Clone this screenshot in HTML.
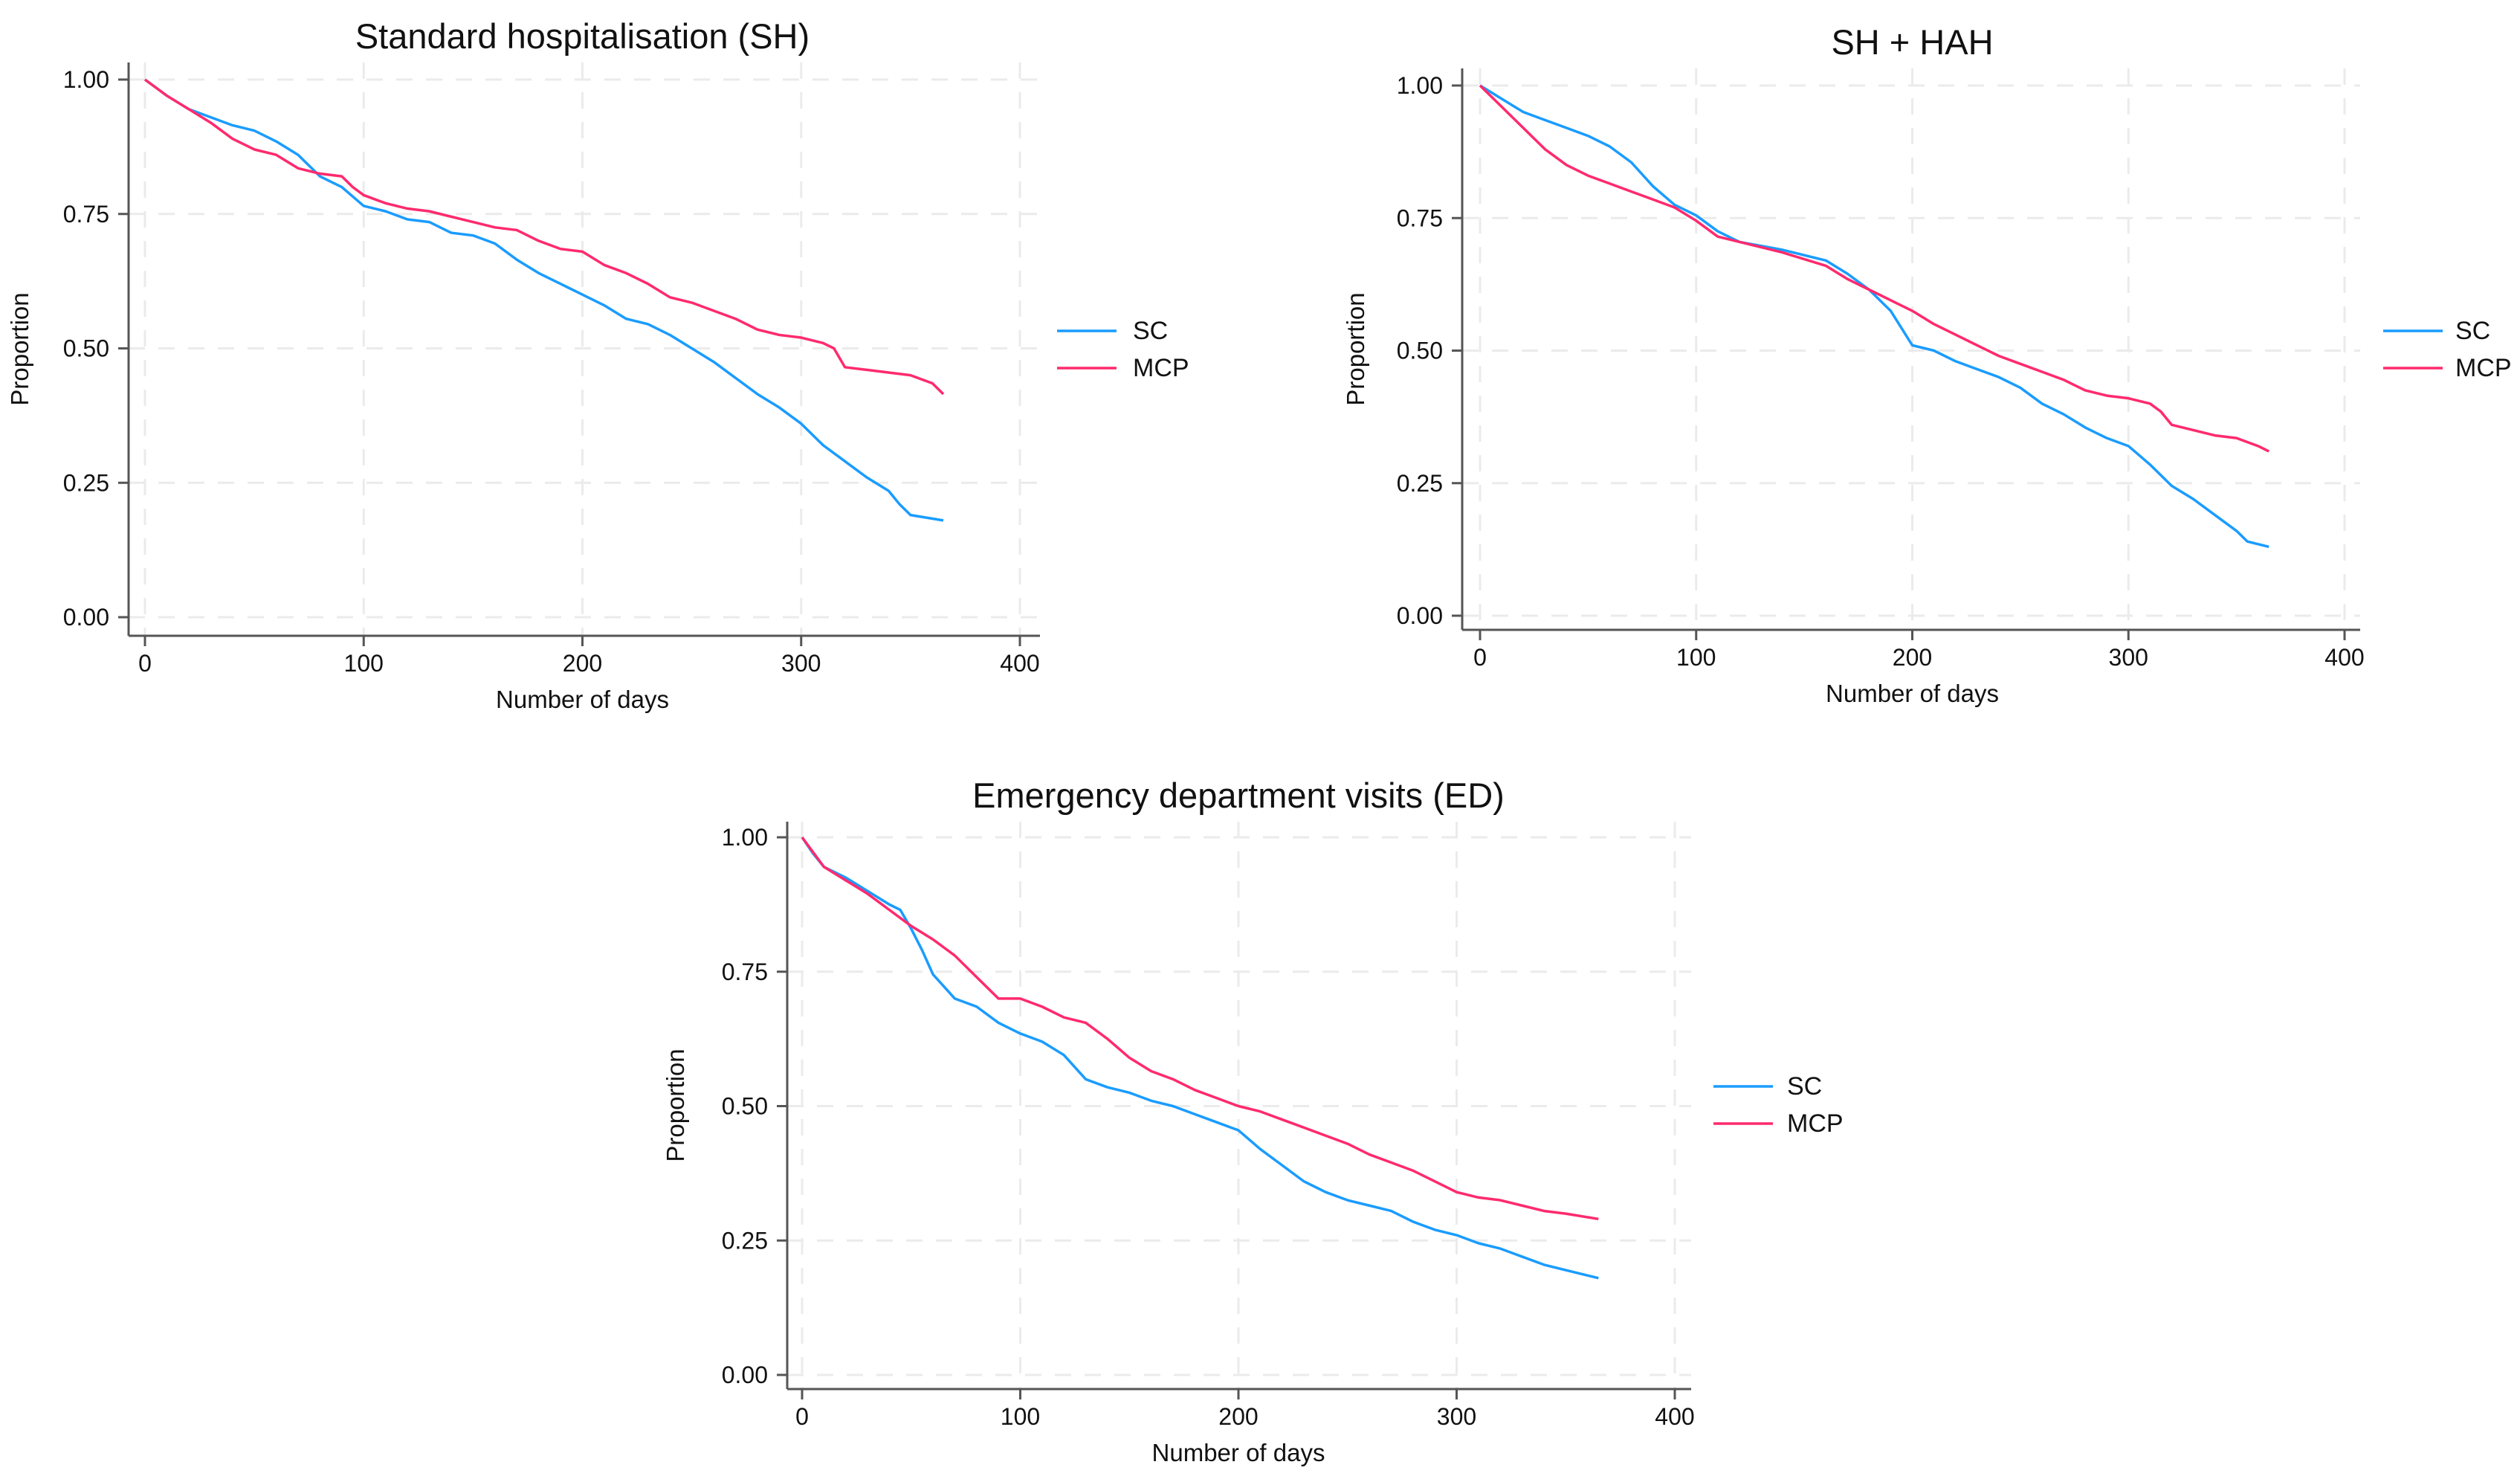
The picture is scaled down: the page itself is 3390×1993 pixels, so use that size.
<!DOCTYPE html>
<html><head><meta charset="utf-8"><style>
html,body{margin:0;padding:0;background:#fff;}
svg{display:block;font-family:"Liberation Sans",Arial,sans-serif;}
</style></head><body>
<svg id="fig" width="3390" height="1993" viewBox="0 0 3390 1993" xmlns="http://www.w3.org/2000/svg"></svg>
<script>
const xTicks = [0, 100, 200, 300, 400];
const yTicks = [0, 0.25, 0.5, 0.75, 1];
const yTickLabels = ["0.00", "0.25", "0.50", "0.75", "1.00"];
const seriesNames = ["SC", "MCP"];
const titles = ["Standard hospitalisation (SH)", "SH + HAH", "Emergency department visits (ED)"];

const shDays = [0,10,20,30,40,50,60,70,80,90,100,110,120,130,140,150,160,170,180,190,200,210,220,230,240,250,260,270,280,290,300,310,320,330,340,345,350,365];
const shSC   = [1,.97,.945,.93,.915,.905,.885,.86,.82,.80,.765,.755,.74,.735,.715,.71,.695,.665,.64,.62,.60,.58,.555,.545,.525,.50,.475,.445,.415,.39,.36,.32,.29,.26,.235,.21,.19,.18];
const shMCPDays = [0,10,20,30,40,50,60,70,80,90,95,100,110,120,130,140,150,160,170,180,190,200,210,220,230,240,250,260,270,280,290,300,310,315,320,330,340,350,360,365];
const shMCP  = [1,.97,.945,.92,.89,.87,.86,.835,.825,.82,.80,.785,.77,.76,.755,.745,.735,.725,.72,.70,.685,.68,.655,.64,.62,.595,.585,.57,.555,.535,.525,.52,.51,.50,.465,.46,.455,.45,.435,.415];

const hahSCDays = [0,10,20,30,40,50,60,70,80,90,100,110,120,140,150,160,170,180,190,200,210,220,230,240,250,260,270,280,290,300,310,320,330,340,350,355,365];
const hahSC  = [1,.975,.95,.935,.92,.905,.885,.855,.81,.775,.755,.725,.705,.69,.68,.67,.645,.615,.575,.51,.50,.48,.465,.45,.43,.40,.38,.355,.335,.32,.285,.245,.22,.19,.16,.14,.13];
const hahMCPDays = [0,10,20,30,40,50,60,70,80,90,100,110,120,140,160,170,180,190,200,210,220,230,240,250,260,270,280,290,300,310,315,320,330,340,350,360,365];
const hahMCP = [1,.96,.92,.88,.85,.83,.815,.80,.785,.77,.745,.715,.705,.685,.66,.635,.615,.595,.575,.55,.53,.51,.49,.475,.46,.445,.425,.415,.41,.40,.385,.36,.35,.34,.335,.32,.31];

const edSCDays = [0,5,10,20,30,40,45,50,55,60,70,80,90,100,110,120,130,140,150,160,170,180,190,200,210,220,230,240,250,260,270,280,290,300,310,320,330,340,350,365];
const edSC   = [1,.97,.945,.925,.90,.875,.865,.83,.79,.745,.70,.685,.655,.635,.62,.595,.55,.535,.525,.51,.50,.485,.47,.455,.42,.39,.36,.34,.325,.315,.305,.285,.27,.26,.245,.235,.22,.205,.195,.18];
const edMCPDays = [0,10,20,30,40,50,60,70,80,90,100,110,120,130,140,150,160,170,180,190,200,210,220,230,240,250,260,270,280,290,300,310,320,330,340,350,365];
const edMCP  = [1,.945,.92,.895,.865,.835,.81,.78,.74,.70,.70,.685,.665,.655,.625,.59,.565,.55,.53,.515,.50,.49,.475,.46,.445,.43,.41,.395,.38,.36,.34,.33,.325,.315,.305,.30,.29];

const NS = "http://www.w3.org/2000/svg";
const svg = document.getElementById("fig");
function mk(tag, attrs, parent) {
  const e = document.createElementNS(NS, tag);
  for (const k in attrs) e.setAttribute(k, attrs[k]);
  (parent || svg).appendChild(e);
  return e;
}
const colors = ["#1a9cff", "#ff2a6d"];

const panels = [
  {ax:173, x0:195, x400:1372, y1:107, y0:830, xAxisY:855, top:84, right:1399, ylabX:38, legLine:1422, legText:1524, legY:445, data:[[shDays,shSC],[shMCPDays,shMCP]], name:"sh"},
  {ax:1967, x0:1991, x400:3154, y1:115, y0:828, xAxisY:847, top:92, right:3175, ylabX:1835, legLine:3206, legText:3303, legY:445, data:[[hahSCDays,hahSC],[hahMCPDays,hahMCP]], name:"sh-hah"},
  {ax:1059, x0:1079, x400:2253, y1:1126, y0:1849, xAxisY:1868, top:1105, right:2275, ylabX:920, legLine:2305, legText:2404, legY:1461, data:[[edSCDays,edSC],[edMCPDays,edMCP]], name:"ed"}
];

panels.forEach((p, pi) => {
  const g = mk("g", {});
  
  
  const xs = d => p.x0 + (p.x400 - p.x0) * d / 400;
  const ys = v => p.y0 - (p.y0 - p.y1) * v;
  xTicks.forEach(t => {
    const l = mk("line", {x1:xs(t), x2:xs(t), y1:p.top, y2:p.xAxisY, stroke:"#ebebeb", "stroke-width":3, "stroke-dasharray":"22,18"}, g);
    
    
  });
  yTicks.forEach(t => {
    const l = mk("line", {x1:p.ax, x2:p.right, y1:ys(t), y2:ys(t), stroke:"#ebebeb", "stroke-width":3, "stroke-dasharray":"22,18"}, g);
    
    
  });
  const ya = mk("line", {x1:p.ax, x2:p.ax, y1:p.top, y2:p.xAxisY, stroke:"#555", "stroke-width":3}, g);
  
  
  const xa = mk("line", {x1:p.ax, x2:p.right, y1:p.xAxisY, y2:p.xAxisY, stroke:"#555", "stroke-width":3}, g);
  
  
  yTicks.forEach((t, i) => {
    mk("line", {x1:p.ax - 14, x2:p.ax, y1:ys(t), y2:ys(t), stroke:"#555", "stroke-width":3}, g);
    const tx = mk("text", {x:p.ax - 26, y:ys(t) + 11, "text-anchor":"end", "font-size":32, fill:"#111"}, g);
    tx.textContent = yTickLabels[i];
    
    
  });
  xTicks.forEach(t => {
    mk("line", {x1:xs(t), x2:xs(t), y1:p.xAxisY, y2:p.xAxisY + 14, stroke:"#555", "stroke-width":3}, g);
    const tx = mk("text", {x:xs(t), y:p.xAxisY + 48, "text-anchor":"middle", "font-size":32, fill:"#111"}, g);
    tx.textContent = String(t);
    
    
  });
  const ttl = mk("text", {x:xs(200), y:p.top - 19, "text-anchor":"middle", "font-size":47, fill:"#111"}, g);
  ttl.textContent = titles[pi];
  
  
  const xl = mk("text", {x:xs(200), y:p.xAxisY + 97, "text-anchor":"middle", "font-size":33, fill:"#111"}, g);
  xl.textContent = "Number of days";
  
  
  const ym = (p.top + p.xAxisY) / 2;
  const yl = mk("text", {x:p.ylabX, y:ym, "text-anchor":"middle", "font-size":33, fill:"#111", transform:`rotate(-90 ${p.ylabX} ${ym})`}, g);
  yl.textContent = "Proportion";
  
  
  p.data.forEach((s, si) => {
    const [days, vals] = s;
    let d = `M${xs(days[0])},${ys(vals[0])}`;
    for (let i = 1; i < days.length; i++) {
      d += ` L${xs(days[i])},${ys(vals[i])}`;
    }
    const path = mk("path", {d:d, fill:"none", stroke:colors[si], "stroke-width":3.5, "stroke-linejoin":"round"}, g);
    
    
    const ly = p.legY + si * 50;
    const le = mk("g", {}, g);
    
    
    mk("line", {x1:p.legLine, x2:p.legLine + 80, y1:ly, y2:ly, stroke:colors[si], "stroke-width":3.5}, le);
    const lt = mk("text", {x:p.legText, y:ly + 11, "font-size":34, fill:"#111"}, le);
    lt.textContent = seriesNames[si];
  });
});
</script>
</body></html>
